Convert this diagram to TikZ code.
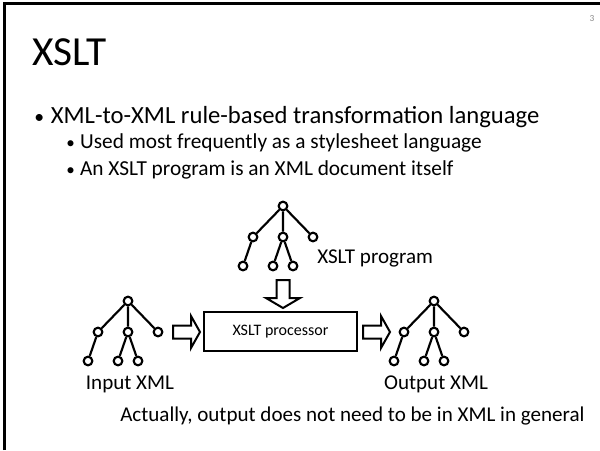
\documentclass[tikz,border=0pt]{standalone}
\usepackage{fontspec}
\setmainfont{Carlito}

\begin{document}
\begin{tikzpicture}[x=0.75pt, y=-0.75pt,
  xnode/.style={draw, circle, line width=1.6pt, inner sep=0pt, minimum size=6.5pt},
  xedge/.style={line width=1.6pt},
  fat/.style={draw, line width=1.5pt, line join=miter},
  txt/.style={inner sep=0pt, anchor=base west},
  lbl/.style={inner sep=0pt, font=\fontsize{15.8}{19}\selectfont}]
\useasboundingbox (0,0) rectangle (600,450);
\draw[line width=2.25pt] (4,450) -- (4,3.5) -- (600,3.5);
\node[text=black!45, font=\fontsize{7}{8}\selectfont] (page) at (592,19) {3};
\node[txt, font=\fontsize{31}{37}\selectfont] (title) at (32,65) {XSLT};
\node[txt, font=\fontsize{18.5}{22}\selectfont] (item) at (34,123) {\scalebox{0.8}{•}\hspace{5pt}XML-to-XML rule-based transformation language};
\node[txt, font=\fontsize{16}{19}\selectfont] (subone) at (66,148) {\scalebox{0.8}{•}\hspace{4pt}Used most frequently as a stylesheet language};
\node[txt, font=\fontsize{16}{19}\selectfont] (subtwo) at (66,175) {\scalebox{0.8}{•}\hspace{4pt}An XSLT program is an XML document itself};
\foreach \t/\x/\y in {prog/283/206, in/128/301, out/434/301} {
  \node[xnode] (\t-r) at (\x,\y) {};
  \node[xnode] (\t-a) at (\x-30,\y+31) {};
  \node[xnode] (\t-b) at (\x,\y+31) {};
  \node[xnode] (\t-c) at (\x+30,\y+31) {};
  \node[xnode] (\t-aa) at (\x-40,\y+60) {};
  \node[xnode] (\t-ba) at (\x-10,\y+60) {};
  \node[xnode] (\t-bb) at (\x+10,\y+60) {};
  \draw[xedge] (\t-r) -- (\t-a) (\t-r) -- (\t-b) (\t-r) -- (\t-c)
    (\t-a) -- (\t-aa) (\t-b) -- (\t-ba) (\t-b) -- (\t-bb);
}
\node[lbl, anchor=base west] (proglbl) at (317,263) {XSLT program};
\node[lbl, anchor=base] (inlbl) at (130,389) {Input XML};
\node[lbl, anchor=base] (outlbl) at (436,389) {Output XML};
\node[draw, line width=1.6pt, minimum width=114.75pt, minimum height=29.25pt, font=\fontsize{12}{14}\selectfont] (proc) at (280.5,331.5) {XSLT processor};
\draw[fat] (173,325.5) -- (191,325.5) -- (191,316) -- (200,332) -- (191,348) -- (191,338.5) -- (173,338.5) -- cycle;
\draw[fat] (363,325.5) -- (381,325.5) -- (381,316) -- (390,332) -- (381,348) -- (381,338.5) -- (363,338.5) -- cycle;
\draw[fat] (276.5,280) -- (276.5,298) -- (266,298) -- (283,308) -- (300,298) -- (289.5,298) -- (289.5,280) -- cycle;
\node[lbl, anchor=base west] (note) at (120,421) {Actually, output does not need to be in XML in general};
\end{tikzpicture}
\end{document}
